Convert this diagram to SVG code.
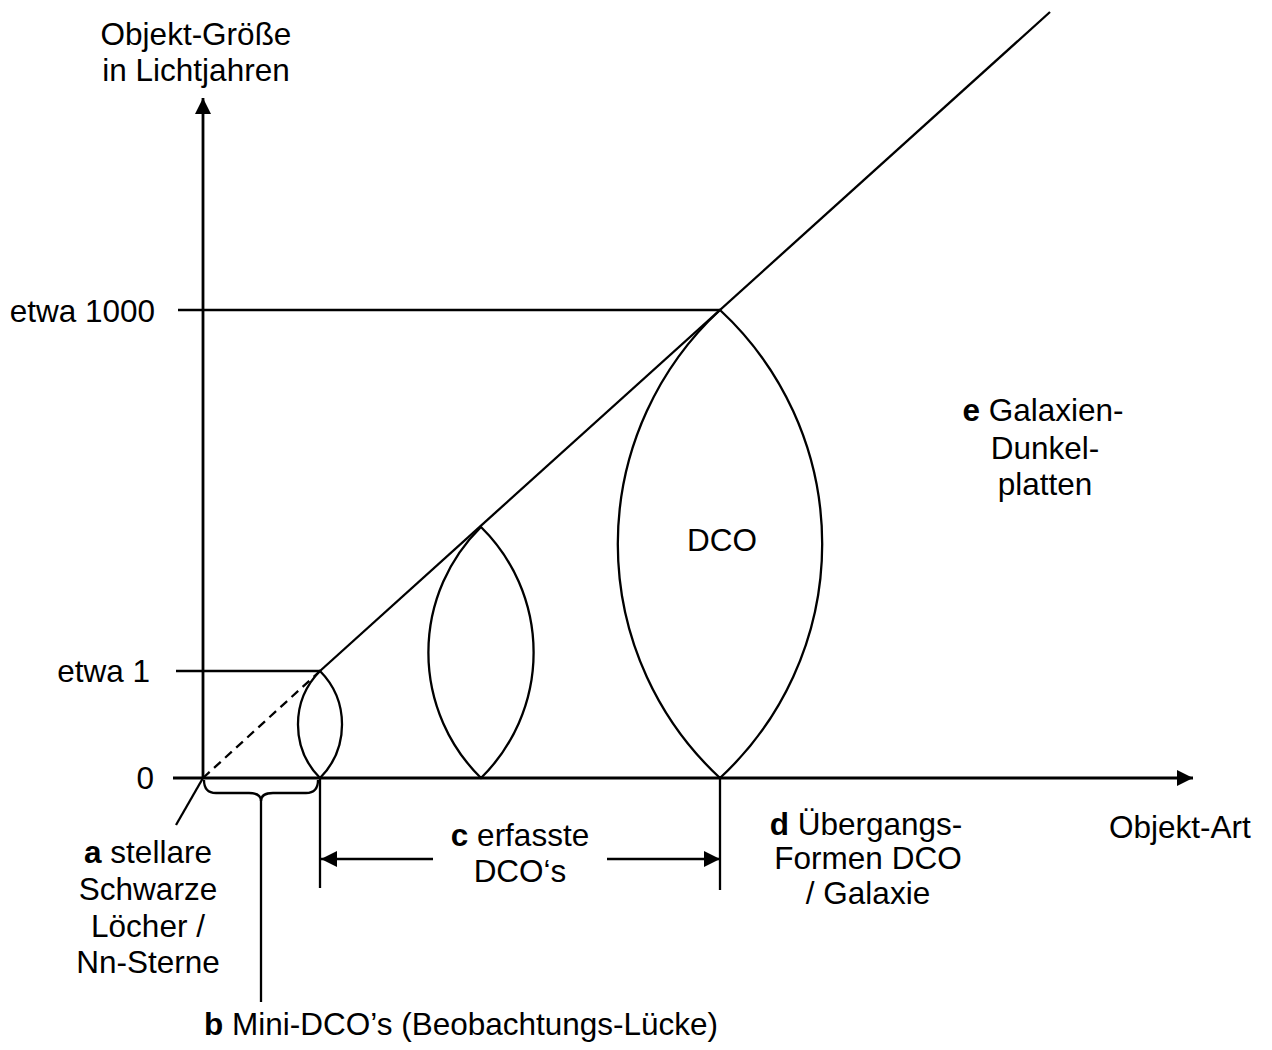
<svg xmlns="http://www.w3.org/2000/svg" width="1272" height="1050" viewBox="0 0 1272 1050">
<style>
text{font-family:"Liberation Sans",Arial,sans-serif;font-size:31.5px;fill:#000}
.m{text-anchor:middle}.r{text-anchor:end}
.ln{stroke:#000;stroke-width:2.3;fill:none}
.ax{stroke:#000;stroke-width:2.8;fill:none}
.b{font-weight:bold}
</style>
<defs>
<marker id="ah" viewBox="0 0 16 16" refX="16" refY="8" markerWidth="16" markerHeight="16" markerUnits="userSpaceOnUse" orient="auto-start-reverse"><path d="M0,0 L16,8 L0,16 z" fill="#000"/></marker>
</defs>
<rect width="1272" height="1050" fill="#fff"/>
<g id="connectors">
<line class="ax" x1="203" y1="778" x2="203" y2="98" marker-end="url(#ah)"/>
<line class="ax" x1="173" y1="778" x2="1193" y2="778" marker-end="url(#ah)"/>
<line class="ln" x1="203" y1="778" x2="320" y2="671" stroke-dasharray="9,6"/>
<line class="ln" x1="320" y1="671" x2="1050" y2="12"/>
<line class="ln" x1="203" y1="778" x2="176" y2="825"/>
<line class="ln" x1="176" y1="671" x2="320" y2="671"/>
<line class="ln" x1="178" y1="310" x2="720" y2="310"/>
<line class="ln" x1="320" y1="778" x2="320" y2="888"/>
<line class="ln" x1="720" y1="778" x2="720" y2="890"/>
<path class="ln" d="M204,780 Q204,793 216,793 H249 Q261,793 261,801 Q261,793 273,793 H306 Q318,793 318,780"/>
<line class="ln" x1="261" y1="800" x2="261" y2="1002"/>
<line class="ln" x1="433" y1="859" x2="321" y2="859" marker-end="url(#ah)"/>
<line class="ln" x1="607" y1="859" x2="720" y2="859" marker-end="url(#ah)"/>
</g>
<g id="lens1"><path class="ln" d="M320,671 A76,76 0 0 0 320,778 A76,76 0 0 0 320,671 Z"/></g>
<g id="lens2"><path class="ln" d="M481,527 A176,176 0 0 0 481,778 A176,176 0 0 0 481,527 Z"/></g>
<g id="lens3"><path class="ln" d="M720,310 A319,319 0 0 0 720,778 A319,319 0 0 0 720,310 Z"/><text class="m" x="722" y="551">DCO</text></g>
<g id="ylabel"><text class="m" x="196" y="45">Objekt-Größe</text><text class="m" x="196" y="81">in Lichtjahren</text></g>
<g id="xlabel"><text x="1109" y="838">Objekt-Art</text></g>
<g id="ticks">
<text class="r" x="155" y="322">etwa 1000</text>
<text class="r" x="150" y="682">etwa 1</text>
<text class="r" x="154" y="789">0</text>
</g>
<g id="a"><text class="m" x="148" y="863"><tspan class="b">a</tspan> stellare</text><text class="m" x="148" y="900">Schwarze</text><text class="m" x="148" y="937">Löcher /</text><text class="m" x="148" y="973">Nn-Sterne</text></g>
<g id="b"><text x="204" y="1035"><tspan class="b">b</tspan> Mini-DCO’s (Beobachtungs-Lücke)</text></g>
<g id="c"><text class="m" x="520" y="846"><tspan class="b">c</tspan> erfasste</text><text class="m" x="520" y="882">DCO‘s</text></g>
<g id="d"><text class="m" x="866" y="835"><tspan class="b">d</tspan> Übergangs-</text><text class="m" x="868" y="869">Formen DCO</text><text class="m" x="868" y="904">/ Galaxie</text></g>
<g id="e"><text class="m" x="1043" y="421"><tspan class="b">e</tspan> Galaxien-</text><text class="m" x="1045" y="459">Dunkel-</text><text class="m" x="1045" y="495">platten</text></g>
</svg>
